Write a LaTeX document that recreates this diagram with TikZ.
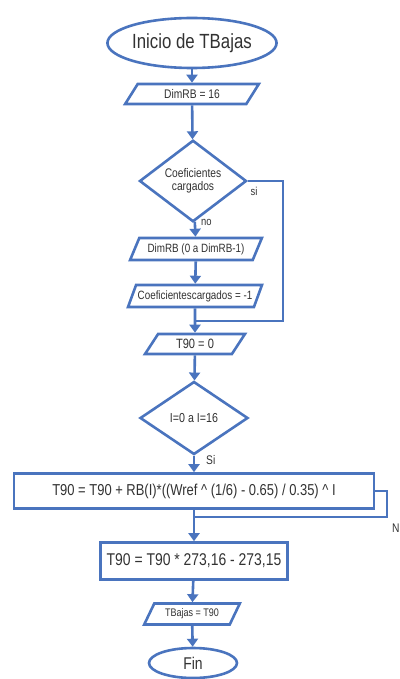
\documentclass[tikz,border=0pt]{standalone}
\usepackage{fontspec}
\setmainfont{Liberation Sans}[FakeStretch=0.82]
\usetikzlibrary{shapes.geometric, arrows.meta}
\definecolor{flowblue}{RGB}{74,116,190}
\definecolor{flowtext}{RGB}{50,50,50}
\newcommand{\fs}[1]{\fontsize{#1}{#1}\selectfont}

\begin{document}
\begin{tikzpicture}[x=1pt, y=-1pt,
  every node/.style={text=flowtext, inner sep=0pt},
  flowline/.style={draw=flowblue, line width=2.6pt},
  terminal/.style={flowline, ellipse, fill=white},
  inout/.style={flowline, trapezium, trapezium left angle=55, trapezium right angle=125,
    trapezium stretches=true, fill=white},
  decision/.style={flowline, diamond, fill=white},
  process/.style={flowline, rectangle, fill=white},
  arrow/.style={flowline, -{Triangle[length=8pt, width=11pt]}}]
  \useasboundingbox (0,0) rectangle (399,679);
  \node[terminal, minimum width=160, minimum height=50, font=\fs{20.5}] (inicio) at (192,43) {Inicio de TBajas};
  \node[inout, minimum width=134, minimum height=20, font=\fs{12.5}] (dimrb) at (192,94) {DimRB = 16};
  \node[decision, minimum width=107, minimum height=73, align=center, font=\fs{12.5}] (coef) at (193,181) {Coeficientes\\[1pt]cargados};
  \node[inout, minimum width=132, minimum height=22, font=\fs{12}] (dimloop) at (196,249) {DimRB (0 a DimRB-1)};
  \node[inout, minimum width=134, minimum height=22, font=\fs{12}] (coefset) at (195,296) {Coeficientescargados = -1};
  \node[inout, minimum width=100, minimum height=20, font=\fs{13.5}] (tzero) at (195,344) {T90 = 0};
  \node[decision, minimum width=108, minimum height=73, font=\fs{13}] (iloop) at (194,418) {I=0 a I=16};
  \node[process, minimum width=360, minimum height=35, font=\fs{15.8}] (suma) at (194,491) {T90 = T90 + RB(I)*((Wref \^{} (1/6) - 0.65) / 0.35) \^{} I};
  \node[process, minimum width=187, minimum height=37, font=\fs{17}] (escala) at (194,561) {T90 = T90 * 273,16 - 273,15};
  \node[inout, minimum width=96, minimum height=21, font=\fs{11}] (tbajas) at (192,614) {TBajas = T90};
  \node[terminal, minimum width=88, minimum height=30, font=\fs{17}] (fin) at (193,663) {Fin};
  % ramas
  \coordinate (sia) at (283,181);
  \coordinate (sib) at (283,321);
  \coordinate (sic) at (195,321);
  \coordinate (na) at (387,491);
  \coordinate (nb) at (387,517);
  \coordinate (nc) at (194,517);
  \node[font=\fs{11.5}] (silbl) at (254,191) {si};
  \node[font=\fs{11.5}, anchor=west] (nolbl) at (201,222) {no};
  \node[font=\fs{12.5}, anchor=west] (Silbl) at (206,460) {Si};
  \node[font=\fs{12.5}, anchor=west] (nlbl) at (392,528) {N};
  \draw[arrow] (inicio) -- (dimrb);
  \draw[arrow] (dimrb) -- (coef);
  \draw[arrow] (coef) -- (dimloop);
  \draw[arrow] (dimloop) -- (coefset);
  \draw[arrow] (coefset.south -| tzero.north) -- (tzero);
  \draw[flowline] (coef.east) -- (sia) -- (sib) -- (sic);
  \draw[arrow] (tzero) -- (iloop);
  \draw[arrow] (iloop) -- (suma);
  \draw[arrow] (suma) -- (escala);
  \draw[flowline] (suma.east) -- (na) -- (nb) -- (nc);
  \draw[arrow] (escala) -- (tbajas);
  \draw[arrow] (tbajas) -- (fin);
\end{tikzpicture}
\end{document}
